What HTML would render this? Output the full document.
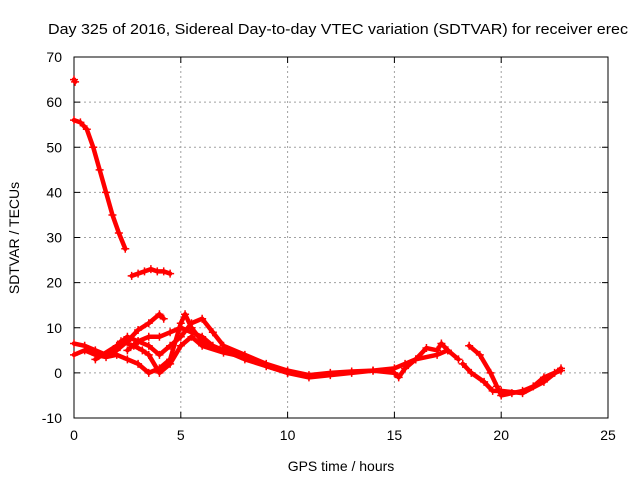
<!DOCTYPE html>
<html><head><meta charset="utf-8"><style>
body{margin:0;background:#fff}
svg{display:block;font-family:"Liberation Sans",sans-serif}
</style></head><body>
<svg id="chart" width="640" height="480" viewBox="0 0 640 480" xmlns="http://www.w3.org/2000/svg">
<rect width="640" height="480" fill="#fff"/>
<text x="48" y="34" font-size="15" textLength="580" lengthAdjust="spacingAndGlyphs" fill="#000">Day 325 of 2016, Sidereal Day-to-day VTEC variation (SDTVAR) for receiver erec</text>
<g id="grid"></g><g id="axes"></g><g id="marks"></g>
<text x="341" y="471" font-size="14" text-anchor="middle">GPS time / hours</text>
<text transform="translate(19,238) rotate(-90)" font-size="14" text-anchor="middle">SDTVAR / TECUs</text>
</svg>
<script>
const xTicks=[0,5,10,15,20,25];
const yTicks=[-10,0,10,20,30,40,50,60,70];
const track1=[[0,65],[0.05,64.5]];
const track2=[[0,56],[0.3,55.5],[0.6,54],[0.9,50],[1.2,45],[1.5,40],[1.8,35],[2.1,31],[2.4,27.5]];
const track3=[[2.7,21.5],[3.0,22],[3.3,22.5],[3.6,23],[3.9,22.5],[4.2,22.5],[4.5,22]];
const trackA=[[0,6.5],[0.5,6],[1,5],[1.5,4],[2,5],[2.5,7],[3,9.5],[3.5,11],[4,13],[4.2,12]];
const trackB=[[0,4],[0.5,5],[1,4],[1.5,3.5],[2,4],[2.5,3],[3,2],[3.5,0],[4,1],[4.5,3],[5,11],[5.2,13],[5.5,10],[6,7],[7,5],[8,3],[9,1.5],[10,0],[11,-1],[12,-0.5],[13,0],[14,0.5],[15,1],[15.5,2],[16,3],[17,4],[17.5,5]];
const trackC=[[1,3],[2,6],[2.5,8],[3,7],[3.5,6],[4,4],[4.5,6],[5,8],[5.5,11],[6,12],[6.5,9],[7,6],[8,4],[9,2],[10,0.5],[11,-0.5],[12,0],[13,0.3],[14,0.5],[15,0],[15.2,-1],[15.5,1],[16,3],[16.5,5.5],[17,5],[17.2,6.5],[17.5,5],[18,3]];
const trackD=[[2.2,7],[2.8,6],[3.2,5],[3.5,4],[4,0],[4.5,2],[5,6],[5.5,8],[6,6],[7,4.5],[8,3.5],[9,1.5],[10,0]];
const trackE=[[2.5,5],[3,7],[3.5,8],[4,8],[4.5,9],[5,10],[5.5,9],[6,8],[6.5,6]];
const trackF=[[18.5,6],[19,4],[19.5,0],[19.8,-3],[20,-5],[20.5,-4.5],[21,-4],[21.5,-3],[22,-1],[22.5,0],[22.8,0.5]];
const trackG=[[18.2,2],[18.6,0],[19.2,-2],[19.6,-4],[20,-4],[21,-4.5],[22,-2],[22.8,1]];
const tracks=[track1,track2,track3,trackA,trackB,trackC,trackD,trackE,trackF,trackG];
const NS="http://www.w3.org/2000/svg";
const X0=74,X1=608,Y0=418,Y1=57;
const sx=v=>X0+(v-0)/(25-0)*(X1-X0);
const sy=v=>Y0-(v+10)/(80)*(Y0-Y1);
function mk(t,a,p){const e=document.createElementNS(NS,t);for(const k in a)e.setAttribute(k,a[k]);p.appendChild(e);return e;}
const grid=document.getElementById('grid'),axes=document.getElementById('axes'),marks=document.getElementById('marks');
mk('rect',{x:X0,y:Y1,width:X1-X0,height:Y0-Y1,fill:'none',stroke:'#000','stroke-width':1},axes);
xTicks.forEach(t=>{const x=sx(t);
 if(t>0&&t<25){const g=mk('line',{x1:x,x2:x,y1:Y0,y2:Y1,stroke:'#a0a0a0','stroke-dasharray':'2,3'},grid);}
 mk('line',{x1:x,x2:x,y1:Y0,y2:Y0-6,stroke:'#000'},axes);mk('line',{x1:x,x2:x,y1:Y1,y2:Y1+6,stroke:'#000'},axes);
 const l=mk('text',{x:x,y:Y0+22,'font-size':14,'text-anchor':'middle'},axes);l.textContent=t;
 });
yTicks.forEach(t=>{const y=sy(t);
 if(t>-10&&t<70){const g=mk('line',{x1:X0,x2:X1,y1:y,y2:y,stroke:'#a0a0a0','stroke-dasharray':'2,3'},grid);}
 mk('line',{x1:X0,x2:X0+6,y1:y,y2:y,stroke:'#000'},axes);mk('line',{x1:X1,x2:X1-6,y1:y,y2:y,stroke:'#000'},axes);
 const l=mk('text',{x:X0-12,y:y+5,'font-size':14,'text-anchor':'end'},axes);l.textContent=t;
 });
tracks.forEach(tr=>{
 const pl=mk('polyline',{points:tr.map(p=>sx(p[0])+','+sy(p[1])).join(' '),fill:'none',stroke:'#f00','stroke-width':4.5,'stroke-linejoin':'round','stroke-linecap':'round'},marks);
 
 
 tr.forEach(p=>{const x=sx(p[0]),y=sy(p[1]);
  const m=mk('path',{d:`M${x-4},${y}H${x+4}M${x},${y-4}V${y+4}`,stroke:'#f00','stroke-width':1.5},marks);
  
  });
});
</script>
</body></html>
